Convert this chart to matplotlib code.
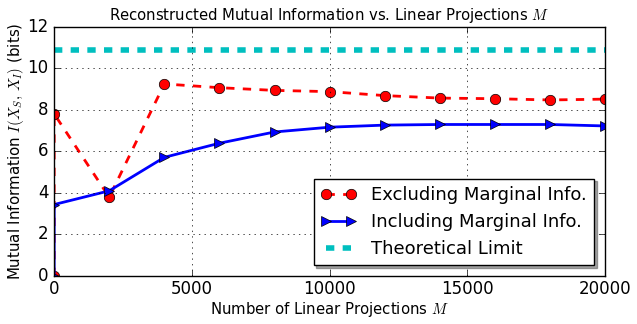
import matplotlib
matplotlib.use("Agg")
import matplotlib.pyplot as plt

plt.style.use("classic")

M = [0, 1, 2000, 4000, 6000, 8000, 10000, 12000, 14000, 16000, 18000, 20000]
excluding = [0.0, 7.8, 3.79, 9.24, 9.06, 8.93, 8.87, 8.68, 8.56, 8.53, 8.47, 8.51]
including = [0.0, 3.44, 4.10, 5.71, 6.39, 6.93, 7.16, 7.26, 7.29, 7.29, 7.29, 7.22]
limit_x = [0, 20000]
limit_y = [10.87, 10.87]

fig = plt.figure(figsize=(6.37, 3.24), dpi=100)
fig.patch.set_facecolor("white")
ax = fig.add_axes([0.085, 0.148, 0.865, 0.770])

ax.plot(M, excluding, "r--o", lw=2, ms=7.5, label="Excluding Marginal Info.")
ax.plot(M, including, "b->", lw=2, ms=7.5, linestyle="-", label="Including Marginal Info.")
ax.plot(limit_x, limit_y, "c--", lw=4, label="Theoretical Limit")

ax.set_xlim(0, 20000)
ax.set_ylim(0, 12)
ax.set_xticks([0, 5000, 10000, 15000, 20000])
ax.set_yticks([0, 2, 4, 6, 8, 10, 12])
ax.grid(True, color="k", linestyle=":")
ax.tick_params(labelsize=12)
ax.tick_params(axis="x", pad=3)
ax.set_title(r"Reconstructed Mutual Information vs. Linear Projections $M$", fontsize=10.7)
ax.set_xlabel(r"Number of Linear Projections $M$", fontsize=10.7, labelpad=1)
ax.set_ylabel(r"Mutual Information $I(X_S,\,X_I)$ (bits)", fontsize=10.8, labelpad=1)
ax.legend(loc="lower right", shadow=True, fancybox=False, fontsize=13, numpoints=2,
          handlelength=2.0, borderaxespad=0.6)

fig.savefig("out.png", dpi=100, facecolor="white")
